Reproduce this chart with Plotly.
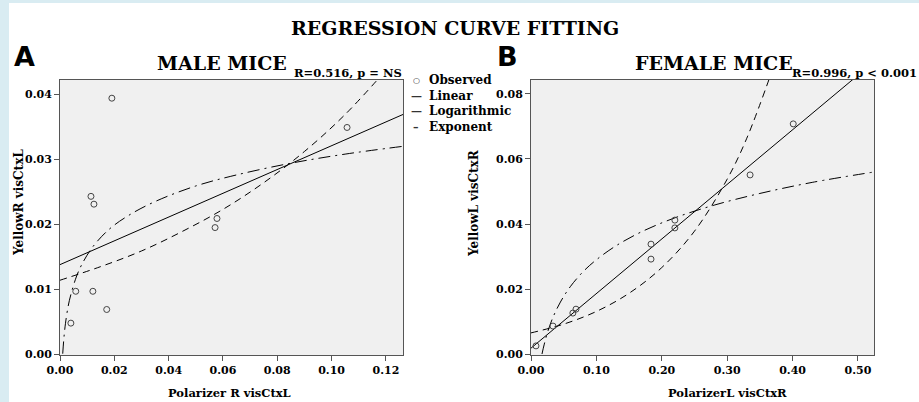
import plotly.graph_objects as go

# ---- data ----
# Panel A: male mice
male_x = [0.0191, 0.1057, 0.0114, 0.0125, 0.0578, 0.0571, 0.0058, 0.0121, 0.0172, 0.0040]
male_y = [0.0394, 0.0349, 0.0243, 0.0231, 0.0209, 0.0195, 0.0097, 0.0097, 0.0069, 0.0048]
male_lin_x = [0.0, 0.1263]
male_lin_y = [0.0138, 0.0369]
male_log_x = [0.001, 0.0015, 0.002, 0.003, 0.004, 0.006, 0.008, 0.012, 0.018,
              0.025, 0.035, 0.05, 0.065, 0.085, 0.105, 0.1263]
male_log_y = [0.0001, 0.0028, 0.0047, 0.0074, 0.0092, 0.0119, 0.0138, 0.0165, 0.0192,
              0.0213, 0.0235, 0.0259, 0.0276, 0.0294, 0.0308, 0.0320]
male_exp_x = [0.0, 0.015, 0.03, 0.045, 0.06, 0.075, 0.09, 0.105, 0.12]
male_exp_y = [0.0114, 0.0135, 0.0159, 0.0189, 0.0223, 0.0264, 0.0312, 0.0369, 0.0437]

# Panel B: female mice
female_x = [0.0076, 0.0336, 0.064, 0.0688, 0.1835, 0.1835, 0.220, 0.220, 0.335, 0.401]
female_y = [0.0025, 0.0086, 0.0126, 0.0138, 0.0338, 0.0292, 0.0412, 0.0388, 0.0551, 0.0708]
female_lin_x = [0.0, 0.5245]
female_lin_y = [0.0018, 0.0899]
female_log_x = [0.0168, 0.02, 0.025, 0.033, 0.045, 0.06, 0.08, 0.1, 0.13, 0.17,
                0.22, 0.28, 0.35, 0.43, 0.5245]
female_log_y = [0.0, 0.0028, 0.0065, 0.0110, 0.0160, 0.0207, 0.0254, 0.0290, 0.0333, 0.0377,
                0.0419, 0.0458, 0.0494, 0.0528, 0.0560]
female_exp_x = [0.0, 0.05, 0.1, 0.15, 0.2, 0.25, 0.3, 0.33, 0.37]
female_exp_y = [0.0065, 0.0092, 0.0131, 0.0187, 0.0266, 0.0378, 0.0538, 0.0664, 0.0879]

male_xticks = [0.0, 0.02, 0.04, 0.06, 0.08, 0.10, 0.12]
male_yticks = [0.0, 0.01, 0.02, 0.03, 0.04]
female_xticks = [0.0, 0.1, 0.2, 0.3, 0.4, 0.5]
female_yticks = [0.0, 0.02, 0.04, 0.06, 0.08]

W, H = 919, 402
SERIF = "DejaVu Serif"


def px(x):
    return x / W


def py(y):
    return 1 - y / H


fig = go.Figure()


def add_panel(xa, ya, ox, oy, lx, ly, gx, gy, ex, ey):
    line = dict(color="black", width=1)
    fig.add_trace(go.Scatter(x=lx, y=ly, mode="lines", line=line,
                             xaxis=xa, yaxis=ya, showlegend=False, hoverinfo="skip"))
    fig.add_trace(go.Scatter(x=gx, y=gy, mode="lines", line_shape="spline",
                             line=dict(color="black", width=1, dash="12px,5px,2px,5px"),
                             xaxis=xa, yaxis=ya, showlegend=False, hoverinfo="skip"))
    fig.add_trace(go.Scatter(x=ex, y=ey, mode="lines", line_shape="spline",
                             line=dict(color="black", width=1, dash="7px,5px"),
                             xaxis=xa, yaxis=ya, showlegend=False, hoverinfo="skip"))
    fig.add_trace(go.Scatter(x=ox, y=oy, mode="markers",
                             marker=dict(symbol="circle-open", size=6,
                                         color="#444", line=dict(width=1)),
                             xaxis=xa, yaxis=ya, showlegend=False))


add_panel("x", "y", male_x, male_y, male_lin_x, male_lin_y,
          male_log_x, male_log_y, male_exp_x, male_exp_y)
add_panel("x2", "y2", female_x, female_y, female_lin_x, female_lin_y,
          female_log_x, female_log_y, female_exp_x, female_exp_y)

axis_common = dict(
    showline=True, mirror=True, linecolor="#555", linewidth=1,
    ticks="outside", ticklen=5, tickcolor="#555",
    showgrid=False, zeroline=False, tickformat=".2f", automargin=False,
    tickfont=dict(family=SERIF, size=11, color="black", weight="bold"),
)

fig.update_layout(
    width=W, height=H,
    margin=dict(l=0, r=0, t=0, b=0, pad=0, autoexpand=False),
    paper_bgcolor="white",
    plot_bgcolor="#f0f0f0",
    showlegend=False,
    xaxis=dict(axis_common, domain=[px(60), px(403)], range=[0, 0.1263],
               tickvals=male_xticks, anchor="y"),
    yaxis=dict(axis_common, domain=[py(355), py(80)], range=[-0.0001, 0.0422],
               tickvals=male_yticks, anchor="x"),
    xaxis2=dict(axis_common, domain=[px(531), px(874)], range=[0, 0.5245],
                tickvals=female_xticks, anchor="y2"),
    yaxis2=dict(axis_common, domain=[py(355), py(80)], range=[-0.0003, 0.0843],
                tickvals=female_yticks, anchor="x2"),
)

# light blue frame strips (left and top)
frame = "#d9ecf2"
fig.add_shape(type="rect", xref="paper", yref="paper", x0=0, x1=px(9), y0=0, y1=1,
              fillcolor=frame, line_width=0, layer="below")
fig.add_shape(type="rect", xref="paper", yref="paper", x0=0, x1=1, y0=py(3), y1=1,
              fillcolor=frame, line_width=0, layer="below")


def label(text, x, y, size, xanchor="center", family=SERIF, angle=0, color="black"):
    fig.add_annotation(text=text, x=px(x), y=py(y), xref="paper", yref="paper",
                       showarrow=False, xanchor=xanchor, yanchor="middle", textangle=angle,
                       font=dict(family=family, size=size, color=color, weight="bold"))


label("REGRESSION CURVE FITTING", 455, 28, 19)
label("A", 12, 57, 27, xanchor="left", family="DejaVu Sans")
label("B", 495, 57, 27, xanchor="left", family="DejaVu Sans")
label("MALE MICE", 222, 63, 19)
label("FEMALE MICE", 714, 63, 19)
label("R=0.516, p = NS", 404, 73, 11.5, xanchor="right")
label("R=0.996, p < 0.001", 919, 73, 11.5, xanchor="right")
label("Polarizer R visCtxL", 229, 393, 11.5)
label("PolarizerL visCtxR", 727, 393, 11.5)
label("YellowR visCtxL", 19, 203, 12, angle=-90)
label("YellowL visCtxR", 474, 203, 12, angle=-90)

# legend drawn as text rows
legend_syms = ["○", "—", "—", "–"]
legend_names = ["Observed", "Linear", "Logarithmic", "Exponent"]
legend_rows = [80, 96, 111, 127]
for sym, name, ry in zip(legend_syms, legend_names, legend_rows):
    label(sym, 416, ry, 8 if sym == "○" else 11, family="DejaVu Sans", color="#333")
    label(name, 427, ry, 12, xanchor="left")

# drop the default page margin so the figure fills the window
fig.write_html("out.html", config={"displayModeBar": False},
               post_script="document.body.style.margin='0';")
